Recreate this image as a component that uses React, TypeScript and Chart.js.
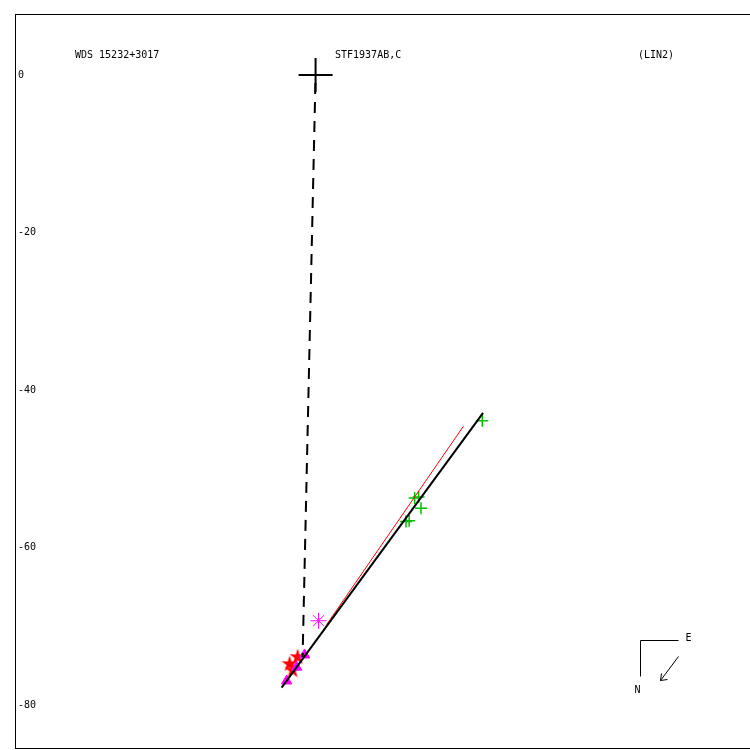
import React, { useEffect, useRef } from "react";
import { Chart, registerables } from "chart.js";

Chart.register(...registerables);

// ---- data (values in plot units: arcsec-like) ----
const yTickValues = [0, -20, -40, -60, -80];
const titleLeft = "WDS 15232+3017";
const titleCenter = "STF1937AB,C";
const titleRight = "(LIN2)";

const originPoint = [{ x: 0, y: 0 }];
const dashedPath = [
  { x: 0, y: 0 },
  { x: -1.65, y: -73.9 },
];
const fitLine = [
  { x: -4.32, y: -77.8 },
  { x: 21.3, y: -42.9 },
];
const redLine = [
  { x: 1.4, y: -69.8 },
  { x: 18.8, y: -44.6 },
];
const greenObs = [
  { x: 21.2, y: -43.9 },
  { x: 12.6, y: -53.7 },
  { x: 13.1, y: -53.6 },
  { x: 13.4, y: -55.0 },
  { x: 11.5, y: -56.7 },
  { x: 11.9, y: -56.6 },
];
const magentaAsterisk = [{ x: 0.38, y: -69.3 }];
const redStars = [
  { x: -2.29, y: -73.9 },
  { x: -3.3, y: -74.8 },
  { x: -2.92, y: -75.6 },
];
const magentaTriangles = [
  { x: -1.4, y: -73.65 },
  { x: -2.41, y: -75.2 },
  { x: -3.68, y: -76.95 },
];

const FONT = "'DejaVu Sans Mono', monospace";

function makeStar(): HTMLCanvasElement {
  const c = document.createElement("canvas");
  c.width = 18;
  c.height = 18;
  const g = c.getContext("2d")!;
  g.fillStyle = "#ff0000";
  g.beginPath();
  for (let i = 0; i < 10; i++) {
    const r = i % 2 === 0 ? 8.5 : 3.2;
    const a = -Math.PI / 2 + (i * Math.PI) / 5;
    const px = 9 + r * Math.cos(a);
    const py = 9 + r * Math.sin(a);
    if (i === 0) g.moveTo(px, py);
    else g.lineTo(px, py);
  }
  g.closePath();
  g.fill();
  return c;
}

const decorPlugin = {
  id: "decor",
  afterDraw(chart: any) {
    const ctx = chart.ctx;
    const a = chart.chartArea;
    const ys = chart.scales.y;
    ctx.save();
    ctx.strokeStyle = "#000";
    ctx.lineWidth = 1;
    ctx.strokeRect(a.left + 0.5, a.top + 0.5, a.right - a.left, a.bottom - a.top);
    ctx.fillStyle = "#000";
    ctx.font = "10px " + FONT;
    ctx.textBaseline = "middle";
    ctx.textAlign = "left";
    // y tick labels, placed with the library's y scale
    yTickValues.forEach((v) => {
      ctx.fillText(String(v), a.left + 3, ys.getPixelForValue(v));
    });
    ctx.fillText(titleLeft, a.left + 60, a.top + 41);
    ctx.fillText(titleCenter, a.left + 320, a.top + 41);
    ctx.fillText(titleRight, a.left + 623, a.top + 41);
    // compass
    const cx = a.left + 625.5;
    const cy = a.top + 626.5;
    ctx.beginPath();
    ctx.moveTo(cx + 38, cy);
    ctx.lineTo(cx, cy);
    ctx.lineTo(cx, cy + 36);
    ctx.stroke();
    ctx.fillText("E", cx + 45, cy - 2);
    ctx.fillText("N", cx - 6, cy + 50);
    ctx.beginPath();
    ctx.moveTo(cx + 38, cy + 16);
    ctx.lineTo(cx + 20, cy + 40);
    ctx.moveTo(cx + 20, cy + 40);
    ctx.lineTo(cx + 21, cy + 33);
    ctx.moveTo(cx + 20, cy + 40);
    ctx.lineTo(cx + 27, cy + 39);
    ctx.stroke();
    ctx.restore();
  },
};

export default function App() {
  const ref = useRef<HTMLCanvasElement>(null);
  useEffect(() => {
    if (!ref.current) return;
    const star = makeStar();
    const chart = new Chart(ref.current, {
      type: "scatter",
      data: {
        datasets: [
          {
            data: dashedPath,
            showLine: true,
            borderColor: "#000",
            borderWidth: 2,
            borderDash: [11, 8],
            borderDashOffset: 11,
            pointRadius: 0,
          },
          {
            data: fitLine,
            showLine: true,
            borderColor: "#000",
            borderWidth: 2,
            pointRadius: 0,
          },
          {
            data: redLine,
            showLine: true,
            borderColor: "#ff0000",
            borderWidth: 1,
            pointRadius: 0,
          },
          {
            data: originPoint,
            pointStyle: "cross",
            pointRadius: 17,
            borderColor: "#000",
            borderWidth: 2,
          },
          {
            data: magentaAsterisk,
            pointStyle: "star",
            pointRadius: 8,
            borderColor: "#ff00ff",
            borderWidth: 1,
          },
          {
            data: greenObs,
            pointStyle: "cross",
            pointRadius: 6,
            borderColor: "#00c000",
            borderWidth: 1.5,
          },
          {
            data: magentaTriangles,
            pointStyle: "triangle",
            pointRadius: 6,
            backgroundColor: "#ff00ff",
            borderColor: "#ff00ff",
            borderWidth: 1,
          },
          {
            data: redStars,
            pointStyle: star as any,
            pointRadius: 9,
          },
        ],
      },
      options: {
        animation: false,
        responsive: false,
        devicePixelRatio: 1,
        layout: { autoPadding: false, padding: { left: 15, top: 14, right: 0, bottom: 2 } },
        plugins: { legend: { display: false }, tooltip: { enabled: false } },
        scales: {
          x: {
            type: "linear",
            display: false,
            min: -38.22,
            max: 55.24,
          },
          y: {
            type: "linear",
            display: false,
            min: -85.46,
            max: 7.746,
          },
        },
      },
      plugins: [decorPlugin],
    });
    return () => chart.destroy();
  }, []);
  return (
    <canvas
      ref={ref}
      width={750}
      height={750}
      style={{ position: "absolute", left: 0, top: 0, width: 750, height: 750 }}
    />
  );
}
